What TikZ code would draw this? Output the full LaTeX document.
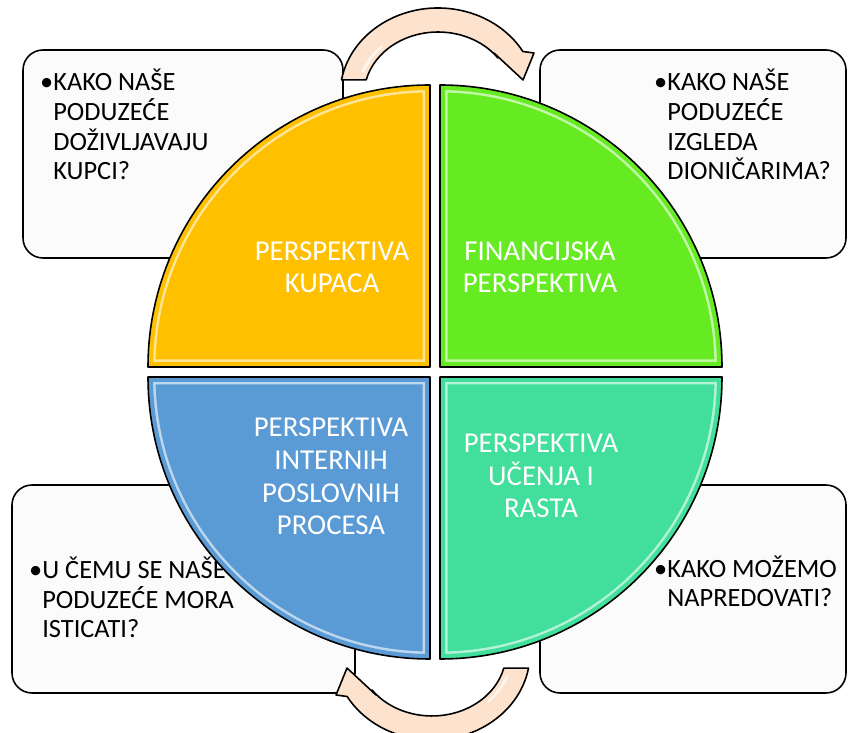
\documentclass[tikz,border=0pt]{standalone}
\usepackage{fontspec}
\setmainfont{Carlito}
\definecolor{kupci}{HTML}{FFC000}
\definecolor{financ}{HTML}{66EB22}
\definecolor{interni}{HTML}{5B9BD5}
\definecolor{ucenje}{HTML}{41DF9B}
\definecolor{strelica}{HTML}{FDE3CD}
\definecolor{kutija}{HTML}{FBFBFB}
\newcommand{\stavka}{\makebox[0pt][r]{\textbullet}}
\begin{document}
\begin{tikzpicture}[x=0.02cm, y=0.02cm, line join=round, line cap=round,
	declare function={r=282; g=5;},
	kutija/.style={draw, line width=0.9pt, fill=kutija, rounded corners=0.4cm},
	pitanje/.style={anchor=base west, align=left, inner sep=0pt, font=\fontsize{15}{17}\selectfont},
	naslov/.style={anchor=base, align=center, inner sep=0pt, text=white, font=\fontsize{16.4}{18.7}\selectfont},
	strelica/.style={draw, line width=0.9pt, fill=strelica}]
	\useasboundingbox (0,0) rectangle (848,733);
	% kutije s pitanjima
	\draw[kutija] (23,475) rectangle (343,683);
	\draw[kutija] (540,475) rectangle (846,683);
	\draw[kutija] (12,40) rectangle (355,248);
	\draw[kutija] (540,40) rectangle (846,248);
	% (base = zadnji redak)
	\node[pitanje] (kupciQ) at (53,553) {\stavka KAKO NAŠE\\PODUZEĆE\\DOŽIVLJAVAJU\\KUPCI?};
	\node[pitanje] (financQ) at (667,553) {\stavka KAKO NAŠE\\PODUZEĆE\\IZGLEDA\\DIONIČARIMA?};
	\node[pitanje] (interniQ) at (42,95) {\stavka U ČEMU SE NAŠE\\PODUZEĆE MORA\\ISTICATI?};
	\node[pitanje] (ucenjeQ) at (667,126) {\stavka KAKO MOŽEMO\\NAPREDOVATI?};
	% strelice
	\foreach \rot in {0,180}{
	\draw[strelica, rotate around={\rot:(435,359)}]
	(438,638) ++(170:98 and 87) arc[start angle=170, end angle=30, x radius=98, y radius=87]
	-- (534,680) -- (523,653) -- (494,680) -- (497.9,675)
	arc[start angle=36, end angle=166, x radius=74, y radius=63] -- cycle;
	\draw[white, opacity=0.7, line width=1.5pt, rotate around={\rot:(435,359)}]
	(438,638) ++(160:80 and 68) arc[start angle=160, end angle=135, x radius=80, y radius=68];
}
	% cetvrtine kruga
	\foreach \boja/\sx/\sy/\a/\b in {kupci/-1/1/180/90, financ/1/1/0/90, interni/-1/-1/180/270, ucenje/1/-1/0/-90}{
	\path[save path=\cetvrt] (435+\sx*g,361+\sy*g) -- ++(\sx*r,0) arc[start angle=\a, end angle=\b, radius=r] -- cycle;
	\begin{scope}
	\clip[use path=\cetvrt];
	\fill[\boja, use path=\cetvrt];
	\draw[white, opacity=0.6, line width=0.3cm, use path=\cetvrt];
	\draw[\boja, line width=0.2cm, use path=\cetvrt];
	\end{scope}
	\draw[line width=0.9pt, use path=\cetvrt];
}
	\node[naslov] (kupci) at (332,440) {PERSPEKTIVA\\KUPACA};
	\node[naslov] (financ) at (540,440) {FINANCIJSKA\\PERSPEKTIVA};
	\node[naslov] (interni) at (331,198) {PERSPEKTIVA\\INTERNIH\\POSLOVNIH\\PROCESA};
	\node[naslov] (ucenje) at (541,215) {PERSPEKTIVA\\UČENJA I\\RASTA};
\end{tikzpicture}
\end{document}
